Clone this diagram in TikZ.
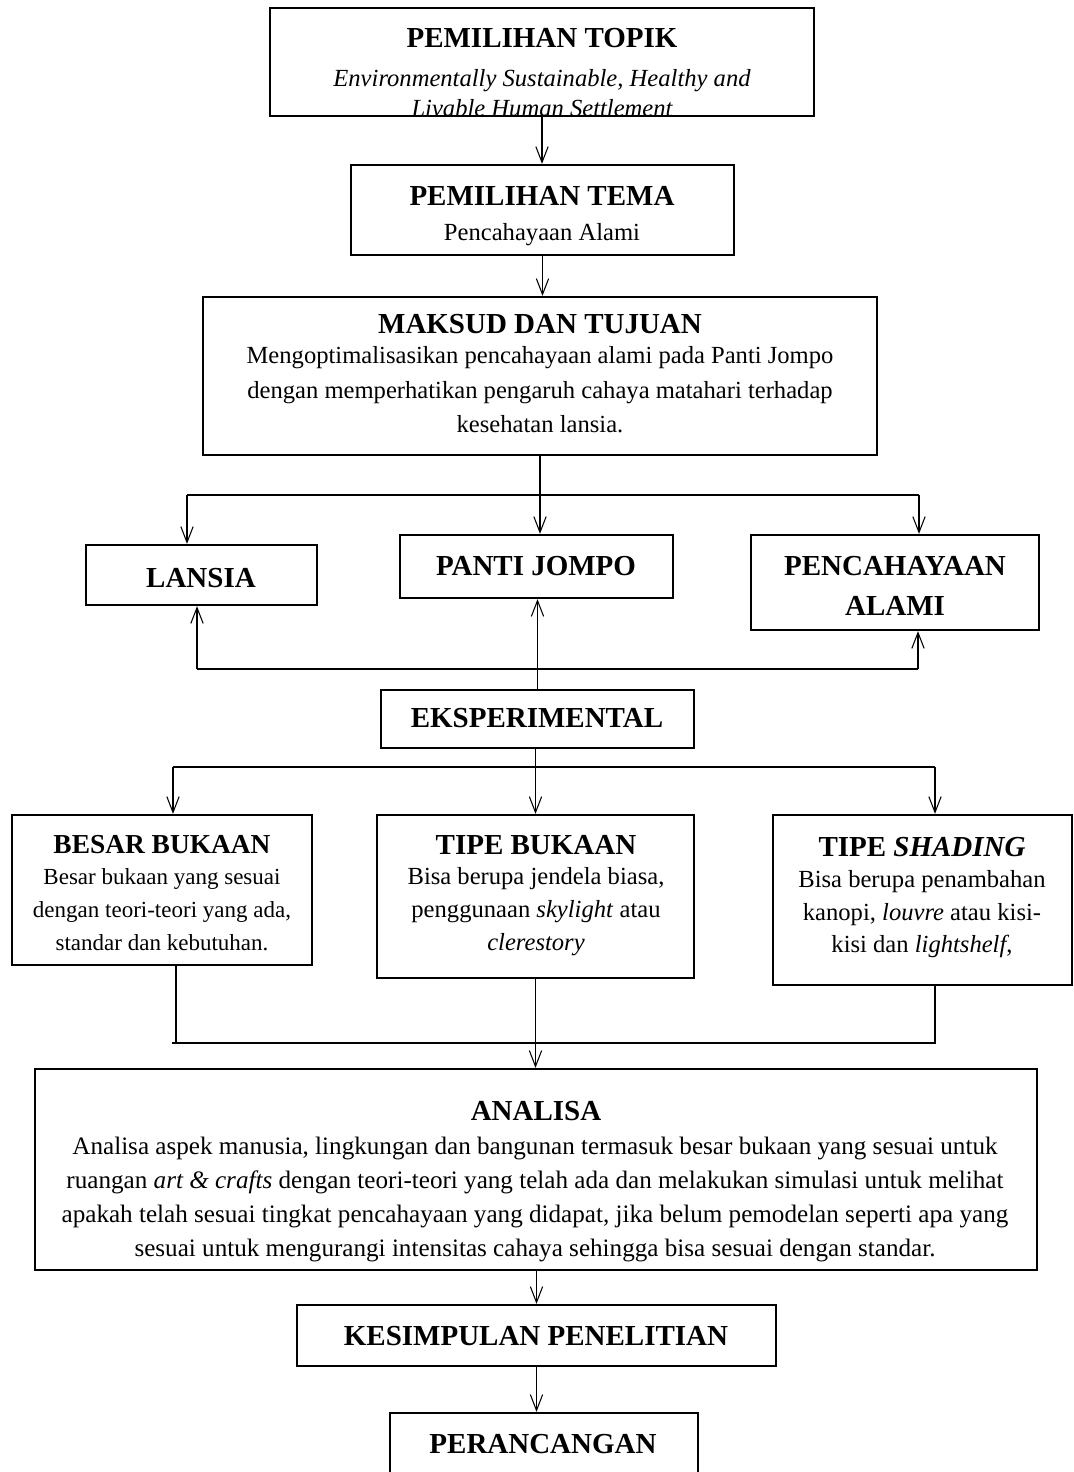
\documentclass[tikz,border=0pt]{standalone}
\usepackage{fontspec}
\setmainfont{Liberation Serif}
\usetikzlibrary{fit,arrows.meta}
\begin{document}
\begin{tikzpicture}[x=0.02cm,y=-0.02cm,
  box/.style={draw,line width=1.3pt,inner sep=0pt},
  ttl/.style={font=\fontsize{16.5}{20}\selectfont\bfseries,inner sep=0pt,anchor=base},
  txt/.style={font=\fontsize{14}{17}\selectfont,inner sep=0pt,anchor=base},
  itx/.style={font=\fontsize{14}{17}\selectfont\itshape,inner sep=0pt,anchor=base},
  sttl/.style={font=\fontsize{15.6}{19}\selectfont\bfseries,inner sep=0pt,anchor=base},
  stxt/.style={font=\fontsize{13.1}{16}\selectfont,inner sep=0pt,anchor=base},
  atxt/.style={font=\fontsize{14.3}{17}\selectfont,inner sep=0pt,anchor=base},
  conn/.style={line width=0.6pt},
  arr/.style={line width=0.6pt,-{Straight Barb[length=9pt,width=7pt]}}]
\useasboundingbox (0,0) rectangle (1074,1472);
% boxes
\node[box,fit={(270,8)(814,116)}] (topik) {};
\node[box,fit={(351,165)(734,255)}] (tema) {};
\node[box,fit={(203,297)(877,455)}] (maksud) {};
\node[box,fit={(86,545)(317,605)}] (lansia) {};
\node[box,fit={(400,535)(673,598)}] (pj) {};
\node[box,fit={(751,535)(1039,630)}] (pa) {};
\node[box,fit={(381,690)(694,748)}] (eks) {};
\node[box,fit={(12,815)(312,965)}] (besar) {};
\node[box,fit={(377,815)(694,978)}] (tipe) {};
\node[box,fit={(773,815)(1072,985)}] (shade) {};
\node[box,fit={(35,1069)(1037,1270)}] (analisa) {};
\node[box,fit={(297,1305)(776,1366)}] (kes) {};
\node[box,fit={(390,1413)(698,1500)}] (pr) {};
% texts
\node[ttl] (t1) at (542,47) {PEMILIHAN TOPIK};
\node[itx] (t1a) at (542,86) {Environmentally Sustainable, Healthy and};
\node[itx] (t1b) at (542,116) {Livable Human Settlement};
\node[ttl] (t2) at (542,205) {PEMILIHAN TEMA};
\node[txt] (t2a) at (542,240) {Pencahayaan Alami};
\node[ttl] (t3) at (540,333) {MAKSUD DAN TUJUAN};
\node[txt] (t3a) at (540,363) {Mengoptimalisasikan pencahayaan alami pada Panti Jompo};
\node[txt] (t3b) at (540,398) {dengan memperhatikan pengaruh cahaya matahari terhadap};
\node[txt] (t3c) at (540,432) {kesehatan lansia.};
\node[ttl] (t4) at (201,587) {LANSIA};
\node[ttl] (t5) at (536,575) {PANTI JOMPO};
\node[ttl] (t6) at (895,575) {PENCAHAYAAN};
\node[ttl] (t6b) at (895,615) {ALAMI};
\node[ttl] (t7) at (537,727) {EKSPERIMENTAL};
\node[sttl] (t8) at (162,853) {BESAR BUKAAN};
\node[stxt] (t8a) at (162,884) {Besar bukaan yang sesuai};
\node[stxt] (t8b) at (162,917) {dengan teori-teori yang ada,};
\node[stxt] (t8c) at (162,950) {standar dan kebutuhan.};
\node[ttl] (t9) at (536,854) {TIPE BUKAAN};
\node[txt] (t9a) at (536,884) {Bisa berupa jendela biasa,};
\node[txt] (t9b) at (536,917) {penggunaan \textit{skylight} atau};
\node[txt] (t9c) at (536,950) {\textit{clerestory}};
\node[ttl] (t10) at (922,856) {TIPE \textit{SHADING}};
\node[txt] (t10a) at (922,887) {Bisa berupa penambahan};
\node[txt] (t10b) at (922,920) {kanopi, \textit{louvre} atau kisi-};
\node[txt] (t10c) at (922,952) {kisi dan \textit{lightshelf},};
\node[ttl] (t11) at (536,1120) {ANALISA};
\node[atxt] (t11a) at (535,1154) {Analisa aspek manusia, lingkungan dan bangunan termasuk besar bukaan yang sesuai untuk};
\node[atxt] (t11b) at (535,1188) {ruangan \textit{art \& crafts} dengan teori-teori yang telah ada dan melakukan simulasi untuk melihat};
\node[atxt] (t11c) at (535,1222) {apakah telah sesuai tingkat pencahayaan yang didapat, jika belum pemodelan seperti apa yang};
\node[atxt] (t11d) at (535,1256) {sesuai untuk mengurangi intensitas cahaya sehingga bisa sesuai dengan standar.};
\node[ttl] (t12) at (536,1345) {KESIMPULAN PENELITIAN};
\node[ttl] (t13) at (543,1453) {PERANCANGAN};
% connector coordinates
\coordinate (m1l) at (187,495);
\coordinate (m1r) at (919,495);
\coordinate (m2l) at (197,669);
\coordinate (m2r) at (918,669);
\coordinate (m3l) at (173,767);
\coordinate (m3r) at (935,767);
\coordinate (m4l) at (176,1043);
\coordinate (m4r) at (935,1043);
% connectors
\draw[arr] (topik.south) -- (topik.south |- tema.north);
\draw[arr] (tema.south) -- (tema.south |- maksud.north);
\draw[arr] (maksud.south) -- (maksud.south |- pj.north);
\draw[conn] (m1l) -- (m1r);
\draw[arr] (m1l) -- (m1l |- lansia.north);
\draw[arr] (m1r) -- (m1r |- pa.north);
\draw[arr] (eks.north) -- (eks.north |- pj.south);
\draw[conn] (m2l) -- (m2r);
\draw[arr] (m2l) -- (m2l |- lansia.south);
\draw[arr] (m2r) -- (m2r |- pa.south);
\draw[arr] (eks.south -| tipe.north) -- (tipe.north);
\draw[conn] (m3l) -- (m3r);
\draw[arr] (m3l) -- (m3l |- besar.north);
\draw[arr] (m3r) -- (m3r |- shade.north);
\draw[conn] (m4l |- besar.south) -- (m4l) -- (m4r) -- (m4r |- shade.south);
\draw[conn] (m4l) -- ++(-4,0);
\draw[arr] (tipe.south) -- (tipe.south |- analisa.north);
\draw[arr] (analisa.south -| kes.north) -- (kes.north);
\draw[arr] (kes.south) -- (kes.south |- pr.north);
\end{tikzpicture}
\end{document}
